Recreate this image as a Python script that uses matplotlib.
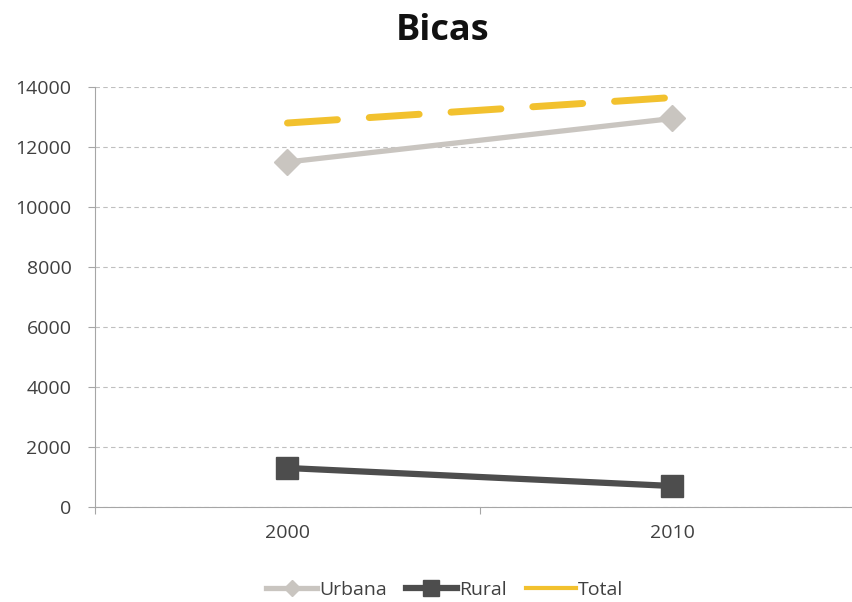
import matplotlib.pyplot as plt
from matplotlib.lines import Line2D

# data
anos = ['2000', '2010']
urbana = [11500, 12950]
rural = [1300, 700]
total = [12800, 13650]

plt.rcParams['font.family'] = ['Open Sans', 'DejaVu Sans']

fig = plt.figure(figsize=(8.53, 6.02), dpi=100)
ax = fig.add_axes([95 / 853, 1 - 507 / 602, 770 / 853, 420 / 602])

x = [0.5, 1.5]
ax.plot(x, total, color='#F2C12E', lw=5, dashes=(7.2, 4.6),
        dash_capstyle='round', zorder=3)
ax.plot(x, urbana, color='#C9C5C0', lw=3.8, marker='D', markersize=13, zorder=2)
ax.plot(x, rural, color='#4D4D4D', lw=4.5, marker='s', markersize=16, zorder=2)

ax.set_xlim(0, 2)
ax.set_ylim(0, 14000)
ax.set_yticks(range(0, 14001, 2000))
ax.set_xticks([0, 1, 2])
ax.set_xticklabels([])
ax.set_xticks(x, minor=True)
ax.set_xticklabels(anos, minor=True)
ax.tick_params(axis='x', which='minor', length=0, pad=12)
ax.tick_params(axis='x', which='major', length=5, color='#A6A6A6')
ax.tick_params(axis='y', length=5, color='#A6A6A6', pad=12)
ax.tick_params(labelsize=14, labelcolor='#404040', which='both')

ax.grid(axis='y', color='#BFBFBF', linestyle=(0, (4, 3)), lw=0.8)
ax.set_axisbelow(True)
for s in ['top', 'right']:
    ax.spines[s].set_visible(False)
for s in ['left', 'bottom']:
    ax.spines[s].set_color('#A6A6A6')

fig.text(443 / 853, 1 - 31 / 602, 'Bicas', ha='center', va='center',
         fontsize=26, fontweight='bold', color='#111111')

handles = [
    Line2D([], [], color='#C9C5C0', lw=3.8, marker='D', markersize=8),
    Line2D([], [], color='#4D4D4D', lw=4.5, marker='s', markersize=11),
    Line2D([], [], color='#F2C12E', lw=3),
]
fig.legend(handles, ['Urbana', 'Rural', 'Total'], loc='center', ncol=3,
           bbox_to_anchor=(445 / 853, 1 - 590 / 602), frameon=False,
           fontsize=14, handlelength=2.6, handletextpad=0.1, columnspacing=1.0,
           labelcolor='#404040')

fig.savefig('out.png', dpi=100)
